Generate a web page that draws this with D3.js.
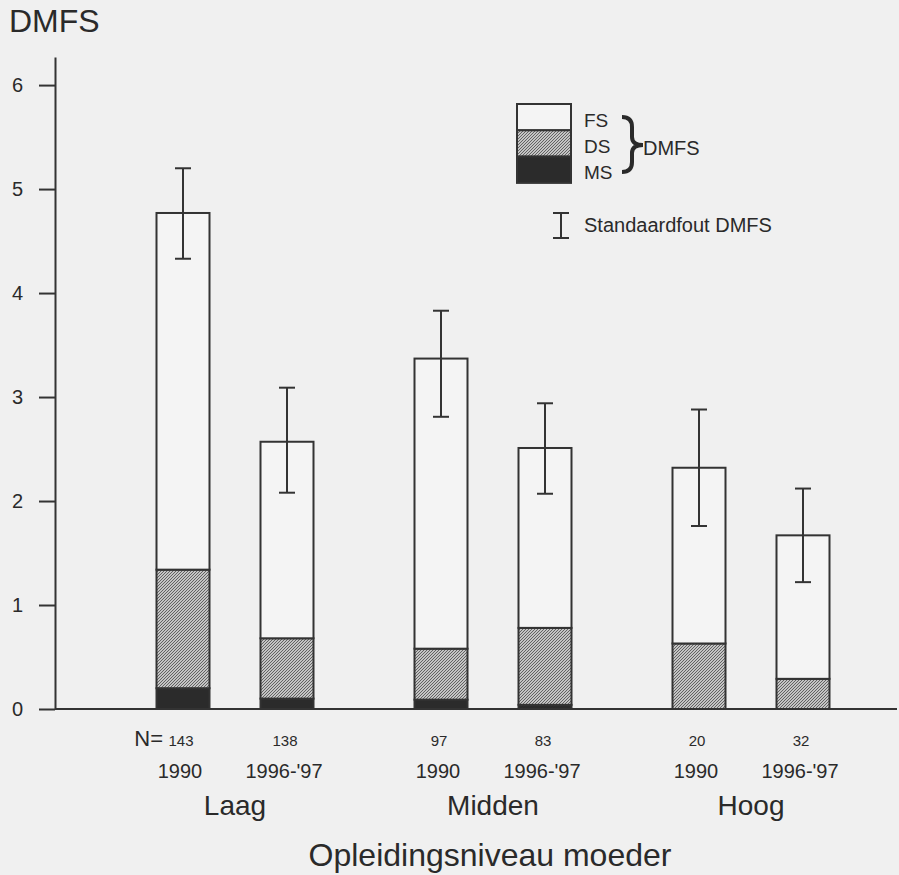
<!DOCTYPE html>
<html>
<head>
<meta charset="utf-8">
<style>
  body { margin: 0; background: #f0f0f0; }
  svg { display: block; font-family: "Liberation Sans", Arial, sans-serif; }
  text { fill: #2a2a2a; }
  .axis path, .axis line { stroke: #333; stroke-width: 2px; }
  .axis text { font-size: 20px; fill: #2a2a2a; font-family: "Liberation Sans", Arial, sans-serif; }
</style>
<script src="https://d3js.org/d3.v7.min.js"></script>
</head>
<body>
<script>
    // data
    var groups = ["Laag", "Midden", "Hoog"];
    var years = ["1990", "1996-'97"];
    var nValues = [143, 138, 97, 83, 20, 32];
    var msValues = [0.20, 0.10, 0.09, 0.04, 0.00, 0.00];
    var dsValues = [1.14, 0.58, 0.49, 0.74, 0.63, 0.29];
    var fsValues = [3.43, 1.89, 2.79, 1.73, 1.69, 1.38];
    var errLow = [4.33, 2.08, 2.81, 2.07, 1.76, 1.22];
    var errHigh = [5.20, 3.09, 3.83, 2.94, 2.88, 2.12];
    var yTicks = [0, 1, 2, 3, 4, 5, 6];
    var legendKeys = ["FS", "DS", "MS"];

    var width = 899, height = 875, barWidth = 53;

    var svg = d3.select("body").append("svg")
        .attr("width", width)
        .attr("height", height);

    // stipple fill for DS
    var pat = svg.append("defs").append("pattern")
        .attr("id", "stip")
        .attr("patternUnits", "userSpaceOnUse")
        .attr("width", 3).attr("height", 3);
    pat.append("rect").attr("width", 3).attr("height", 3).attr("fill", "#c4c4c4");
    pat.append("path").attr("d", "M0,3L3,0M-1,1L1,-1M2,4L4,2")
        .attr("stroke", "#505050").attr("stroke-width", 0.85);

    var fills = { MS: "#2b2b2b", DS: "url(#stip)", FS: "#f4f4f4" };

    var y = d3.scaleLinear().domain([0, 6.27]).range([709, 57]);
    var x0 = d3.scaleBand().domain(groups).range([106, 880]);
    var x1 = d3.scalePoint().domain(years).range([77, 181]);

    // one row per bar
    var rows = [];
    groups.forEach(function(g, gi) {
        years.forEach(function(yr, yi) {
            var i = gi * 2 + yi;
            rows.push({ group: g, year: yr, n: nValues[i],
                        MS: msValues[i], DS: dsValues[i], FS: fsValues[i],
                        lo: errLow[i], hi: errHigh[i],
                        cx: x0(g) + x1(yr) });
        });
    });

    var stack = d3.stack().keys(["MS", "DS", "FS"])(rows);

    svg.append("g").selectAll("g")
      .data(stack)
      .enter().append("g")
        .attr("fill", function(d) { return fills[d.key]; })
      .selectAll("rect")
      .data(function(d) { return d.filter(function(s) { return s[1] - s[0] > 0; }); })
      .enter().append("rect")
        .attr("x", function(d) { return d.data.cx - barWidth / 2; })
        .attr("y", function(d) { return y(d[1]); })
        .attr("width", barWidth)
        .attr("height", function(d) { return y(d[0]) - y(d[1]); })
        .attr("stroke", "#333")
        .attr("stroke-width", 2);

    // error bars
    var eb = svg.append("g").attr("stroke", "#333").attr("stroke-width", 2);
    eb.selectAll("line.v").data(rows).enter().append("line")
        .attr("x1", function(d) { return d.cx; }).attr("x2", function(d) { return d.cx; })
        .attr("y1", function(d) { return y(d.lo); }).attr("y2", function(d) { return y(d.hi); });
    ["lo", "hi"].forEach(function(k) {
        eb.selectAll("line." + k).data(rows).enter().append("line")
            .attr("x1", function(d) { return d.cx - 8; }).attr("x2", function(d) { return d.cx + 8; })
            .attr("y1", function(d) { return y(d[k]); }).attr("y2", function(d) { return y(d[k]); });
    });

    // axes
    svg.append("g").attr("class", "axis")
        .attr("transform", "translate(55,0)")
        .call(d3.axisLeft(y).tickValues(yTicks).tickFormat(d3.format("d"))
              .tickSize(16).tickSizeOuter(0).tickPadding(16));

    svg.append("line")
        .attr("x1", 55).attr("x2", 897)
        .attr("y1", y(0)).attr("y2", y(0))
        .attr("stroke", "#333").attr("stroke-width", 2);

    svg.append("text").attr("x", 9).attr("y", 32)
        .style("font-size", "32px").text("DMFS");

    // category labels
    svg.selectAll("text.n").data(rows).enter().append("text")
        .attr("x", function(d) { return d.cx - 2; }).attr("y", 746)
        .attr("text-anchor", "middle").style("font-size", "15px")
        .text(function(d) { return d.n; });
    svg.append("text").attr("x", 163).attr("y", 746)
        .attr("text-anchor", "end").style("font-size", "22px").text("N=");

    svg.selectAll("text.yr").data(rows).enter().append("text")
        .attr("x", function(d) { return d.cx - 3; }).attr("y", 778)
        .attr("text-anchor", "middle").style("font-size", "20px")
        .text(function(d) { return d.year; });

    svg.selectAll("text.grp").data(groups).enter().append("text")
        .attr("x", function(d) { return x0(d) + x0.bandwidth() / 2; }).attr("y", 815)
        .attr("text-anchor", "middle").style("font-size", "28px")
        .text(function(d) { return d; });

    svg.append("text").attr("x", 490).attr("y", 866)
        .attr("text-anchor", "middle").style("font-size", "32px")
        .text("Opleidingsniveau moeder");

    // legend
    var lg = svg.append("g").attr("transform", "translate(517,104)");
    lg.selectAll("rect").data(legendKeys).enter().append("rect")
        .attr("x", 0).attr("y", function(d, i) { return i * 26.3; })
        .attr("width", 54).attr("height", 26.3)
        .attr("fill", function(d) { return fills[d]; })
        .attr("stroke", "#333").attr("stroke-width", 2);
    lg.selectAll("text").data(legendKeys).enter().append("text")
        .attr("x", 67).attr("y", function(d, i) { return 23 + i * 26; })
        .style("font-size", "19px")
        .text(function(d) { return d; });
    lg.append("path")
        .attr("d", "M105,13Q115,13 115,23L115,33Q115,41 126,41Q115,41 115,49L115,58Q115,68 105,68")
        .attr("fill", "none").attr("stroke", "#2a2a2a").attr("stroke-width", 4);
    lg.append("text").attr("x", 126).attr("y", 51)
        .style("font-size", "20px").text("DMFS");

    var le = svg.append("g").attr("stroke", "#333").attr("stroke-width", 2);
    le.append("line").attr("x1", 561).attr("x2", 561).attr("y1", 213).attr("y2", 238);
    le.append("line").attr("x1", 553).attr("x2", 569).attr("y1", 213).attr("y2", 213);
    le.append("line").attr("x1", 553).attr("x2", 569).attr("y1", 238).attr("y2", 238);
    svg.append("text").attr("x", 584).attr("y", 232)
        .style("font-size", "20px").text("Standaardfout DMFS");
</script>
</body>
</html>
